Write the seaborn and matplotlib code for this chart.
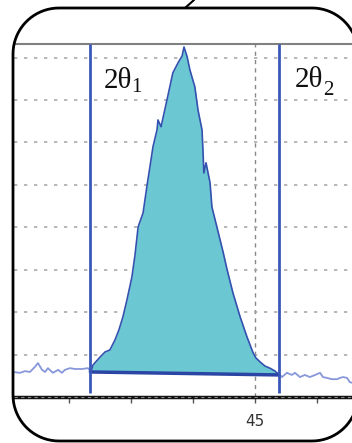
import matplotlib.pyplot as plt
import numpy as np
import seaborn as sns
from matplotlib.lines import Line2D
from matplotlib.patches import PathPatch
from matplotlib.path import Path
from matplotlib.transforms import IdentityTransform

# --- peak profile between the two integration limits (2theta in deg, intensity in counts) ---
peak_2theta = [44.471, 44.477, 44.500, 44.516, 44.532, 44.548, 44.561, 44.574, 44.587,
               44.603, 44.613, 44.623, 44.639, 44.652, 44.661, 44.671, 44.684, 44.687,
               44.697, 44.716, 44.735, 44.752, 44.765, 44.771, 44.781, 44.790, 44.806,
               44.816, 44.829, 44.832, 44.835, 44.842, 44.855, 44.861, 44.877, 44.897,
               44.910, 44.929, 44.952, 44.974, 44.994, 45.003, 45.016, 45.032, 45.048,
               45.065, 45.077]
peak_counts = [59, 75, 94, 106, 111, 134, 158, 189, 229,
               283, 335, 401, 434, 500, 542, 590, 630, 653,
               637, 700, 764, 788, 804, 825, 802, 771, 731,
               677, 630, 583, 528, 552, 505, 448, 401, 342,
               300, 245, 189, 142, 104, 92, 83, 73, 68,
               61, 52]

# background scan outside the peak
left_2theta = [44.219, 44.242, 44.258, 44.274, 44.290, 44.300, 44.313, 44.323, 44.332,
               44.348, 44.365, 44.377, 44.387, 44.403, 44.419, 44.442, 44.461, 44.471]
left_counts = [59, 57, 61, 59, 71, 80, 64, 59, 68, 57, 64, 57, 64, 68, 66, 66, 68, 59]
right_2theta = [45.074, 45.087, 45.103, 45.119, 45.129, 45.145, 45.161, 45.177, 45.194,
                45.210, 45.219, 45.232, 45.248, 45.265, 45.274, 45.284, 45.297, 45.306,
                45.316]
right_counts = [57, 47, 57, 52, 57, 47, 52, 47, 52, 57, 47, 45, 42, 42, 45, 47, 45, 35, 33]

# integration limits and linear background under the peak
theta1 = 44.469
theta2 = 45.076
base_counts = [59, 52]

grid_counts = [100, 200, 300, 400, 500, 600, 700, 800]
major_ticks = [45]
minor_ticks = [44.4, 44.6, 44.8, 45.2]

sns.set_theme(style="white")
plt.rcParams['font.family'] = ['DejaVu Sans']

fig = plt.figure(figsize=(3.52, 4.43), dpi=100)
ax = fig.add_axes([14 / 352, 46 / 443, 338 / 352, 353 / 443])

# background noise
sns.lineplot(x=left_2theta, y=left_counts, ax=ax, color='#8797DA', lw=1.3, sort=False)
sns.lineplot(x=right_2theta, y=right_counts, ax=ax, color='#8797DA', lw=1.3, sort=False)

# filled peak above the linear background
base = np.interp(peak_2theta, [theta1, theta2], base_counts)
ax.fill_between(peak_2theta, base, peak_counts, color='#6BC8D3', lw=0, zorder=2)
sns.lineplot(x=peak_2theta, y=peak_counts, ax=ax, color='#3451B0', lw=1.2, sort=False)
ax.plot([theta1, theta2], base_counts, color='#2B45A5', lw=2.5, zorder=4)

# integration limits
ax.vlines([theta1, theta2], 10, 832, color='#3A58B8', lw=2, zorder=5)

ax.set_xlim(44.2226, 45.3129)
ax.set_ylim(0, 832)

ax.set_yticks(grid_counts)
ax.tick_params(axis='y', left=False, labelleft=False)
ax.yaxis.grid(True, ls=(0, (2, 4)), color='#AAAAAA', lw=1.2)
ax.set_xticks(major_ticks)
ax.set_xticklabels(['45'])
ax.set_xticks(minor_ticks, minor=True)
ax.xaxis.grid(True, which='major', ls=(0, (3, 3)), color='#888888', lw=1)
ax.tick_params(axis='x', which='both', bottom=True, direction='out', length=4,
               width=1, color='#555555', labelsize=11, labelcolor='#333333', pad=8)

for side in ['left', 'right']:
    ax.spines[side].set_visible(False)
ax.spines['top'].set_color('#808080')
ax.spines['top'].set_linewidth(1.5)
ax.spines['bottom'].set_color('#111111')
ax.spines['bottom'].set_linewidth(2.5)
ax.axhline(0, color='#888888', lw=0.8, ls=(0, (3, 3)), zorder=6, clip_on=False)

# labels of the two limits
serif = ['Liberation Serif', 'DejaVu Serif']
ax.text(0.266, 0.875, '2θ', transform=ax.transAxes, fontsize=21, family=serif, color='#111111')
ax.text(0.347, 0.864, '1', transform=ax.transAxes, fontsize=15, family=serif, color='#111111')
ax.text(0.831, 0.878, '2θ', transform=ax.transAxes, fontsize=21, family=serif, color='#111111')
ax.text(0.915, 0.856, '2', transform=ax.transAxes, fontsize=15, family=serif, color='#111111')

# rounded callout frame, drawn in pixels (origin bottom-left)
x0, x1, y0, y1, r = 13, 358, 2, 435, 46
t = np.linspace(0, np.pi / 2, 20)
corners = [(x1 - r, y1 - r, 0), (x0 + r, y1 - r, np.pi / 2),
           (x0 + r, y0 + r, np.pi), (x1 - r, y0 + r, 1.5 * np.pi)]
verts = []
for cx, cy, a0 in corners:
    verts += list(zip(cx + r * np.cos(a0 + t), cy + r * np.sin(a0 + t)))
verts.append(verts[0])
frame = PathPatch(Path(verts), fill=False, ec='black', lw=2, transform=IdentityTransform())
fig.add_artist(frame)
fig.add_artist(Line2D([185 / 352, 194 / 352], [1 - 8 / 443, 1.0], color='black', lw=1.5))

fig.savefig('out.png', dpi=100, facecolor='white')
